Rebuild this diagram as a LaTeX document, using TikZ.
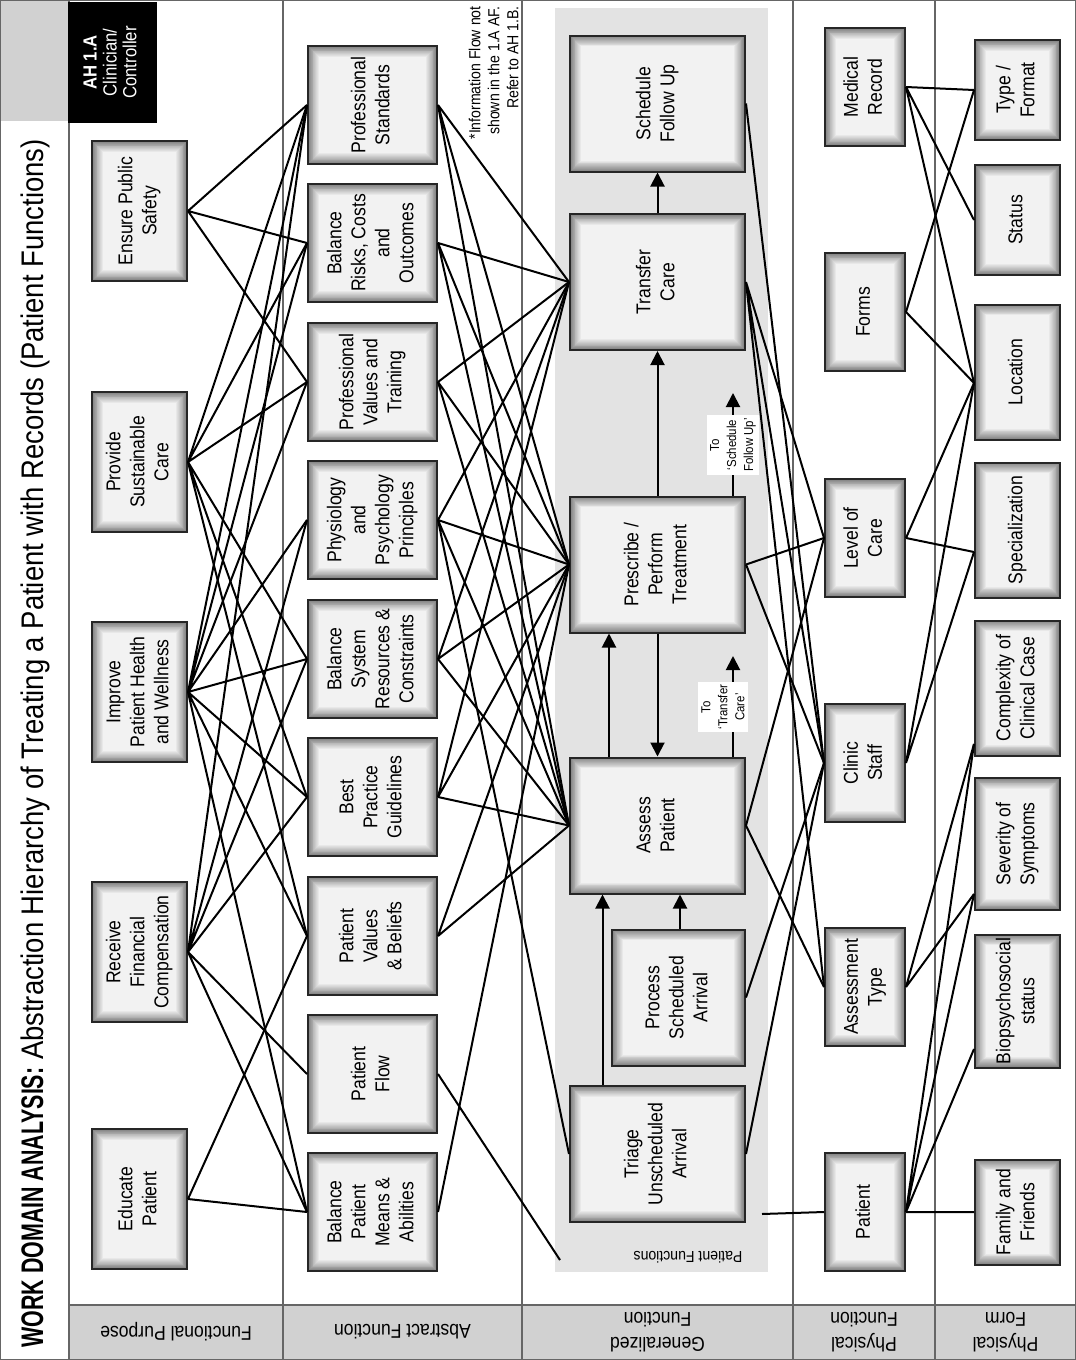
\documentclass[tikz,border=0pt]{standalone}
\usepackage{fontspec}
\setmainfont{Liberation Sans}[FakeStretch=0.88]
\usetikzlibrary{arrows.meta,calc}

\newcommand{\vlabel}[1]{\rotatebox{90}{\begin{tabular}{@{}c@{}}#1\end{tabular}}}

\begin{document}
\begin{tikzpicture}[
  x=0.5pt, y=-0.5pt,
  box/.style={draw=black!85, line width=1pt, inner sep=1pt, font=\fontsize{10}{12}\selectfont,
    path picture={\foreach \k [evaluate=\k as \c using int(50-3.7*\k)] in {0,...,12}
      \fill[black!\c] ([shift={(\k*0.45pt,-\k*0.45pt)}]path picture bounding box.north west)
        rectangle ([shift={(-\k*0.45pt,\k*0.45pt)}]path picture bounding box.south east);}},
  fpbox/.style={box, minimum width=47.5pt, minimum height=70pt},
  afbox/.style={box, minimum width=64.5pt, minimum height=59pt},
  gfbox/.style={box, minimum width=87.5pt, minimum height=68pt},
  pfbox/.style={box, minimum width=40pt, minimum height=59pt},
  formbox/.style={box, minimum width=42.5pt, minimum height=#1},
  formbox/.default=67.5pt,
  link/.style={line width=1pt, black},
  flow/.style={link, -{Triangle[length=7pt, width=7pt]}},
  level/.style={rotate=180, align=center, font=\fontsize{10}{12.5}\selectfont},
  hint/.style={fill=white, inner sep=1.5pt, rotate=90, align=center, font=\fontsize{6.5}{8.5}\selectfont}
]

% === Frame and level columns ===
\useasboundingbox (0,0) rectangle (1076,1360);
\fill[black!18] (0,0) rectangle (69,121);
\fill[black!18] (69,1305) rectangle (1076,1360);
\fill[black!11] (555,8) rectangle (768,1272);
\draw[black!60, line width=0.8pt] (0.5,0.5) rectangle (1075.5,1359.5);
\draw[black!60, line width=0.8pt] (69,0) -- (69,1360) (69,1305) -- (1076,1305)
  (283,0) -- (283,1360) (522,0) -- (522,1360) (793,0) -- (793,1360) (935,0) -- (935,1360);

% === Title ===
\node[rotate=90, anchor=west, inner sep=0pt, font=\fontsize{15.6}{18}\selectfont] (title) at (35,1348)
  {\scalebox{0.78}[1]{\bfseries WORK DOMAIN ANALYSIS:} Abstraction Hierarchy of Treating a Patient with Records (Patient Functions)};
\node[fill=black, text=white, minimum width=44.5pt, minimum height=60.5pt, inner sep=0pt,
  font=\fontsize{9.5}{10}\selectfont] (ah) at (112.5,62.5) {\vlabel{\textbf{AH 1.A}\\Clinician/\\Controller}};
\node[rotate=90, anchor=south east, align=right, inner sep=1pt, font=\fontsize{8}{9.5}\selectfont] (note) at (521,4)
  {*Information Flow not\\shown in the 1.A AF.\\Refer to AH 1.B.};

% === Level labels ===
\node[level] (lfp) at (176,1332) {Functional Purpose};
\node[level] (laf) at (402.5,1332) {Abstract Function};
\node[level] (lgf) at (657.5,1332) {Generalized\\Function};
\node[level] (lpf) at (864,1332) {Physical\\Function};
\node[level] (lpo) at (1005.5,1332) {Physical\\Form};
\node[rotate=180, font=\fontsize{8}{9}\selectfont] (pfun) at (688,1257) {Patient Functions};

% === Functional purpose ===
\node[fpbox] (ES)  at (139.5,211)  {\vlabel{Ensure Public\\Safety}};
\node[fpbox] (PSC) at (139.5,462)  {\vlabel{Provide\\Sustainable\\Care}};
\node[fpbox] (IPH) at (139.5,692)  {\vlabel{Improve\\Patient Health\\and Wellness}};
\node[fpbox] (RFC) at (139.5,952)  {\vlabel{Receive\\Financial\\Compensation}};
\node[fpbox] (EP)  at (139.5,1199) {\vlabel{Educate\\Patient}};

% === Abstract function ===
\node[afbox] (PS)  at (372.5,105)  {\vlabel{Professional\\Standards}};
\node[afbox] (BR)  at (372.5,243)  {\vlabel{Balance\\Risks, Costs\\and\\Outcomes}};
\node[afbox] (PV)  at (372.5,382)  {\vlabel{Professional\\Values and\\Training}};
\node[afbox] (PP)  at (372.5,520)  {\vlabel{Physiology\\and\\Psychology\\Principles}};
\node[afbox] (BSR) at (372.5,659)  {\vlabel{Balance\\System\\Resources \&\\Constraints}};
\node[afbox] (BPG) at (372.5,797)  {\vlabel{Best\\Practice\\Guidelines}};
\node[afbox] (PVB) at (372.5,936)  {\vlabel{Patient\\Values\\\& Beliefs}};
\node[afbox] (PF)  at (372.5,1074) {\vlabel{Patient\\Flow}};
\node[afbox] (BPM) at (372.5,1212) {\vlabel{Balance\\Patient\\Means \&\\Abilities}};

% === Generalized function ===
\node[gfbox] (SFU) at (657.5,103.5) {\vlabel{Schedule\\Follow Up}};
\node[gfbox] (TC)  at (657.5,282)   {\vlabel{Transfer\\Care}};
\node[gfbox] (PT)  at (657.5,564.5) {\vlabel{Prescribe /\\Perform\\Treatment}};
\node[gfbox] (AP)  at (657.5,825.5) {\vlabel{Assess\\Patient}};
\node[gfbox, minimum width=66.5pt] (PSA) at (678.5,997.5) {\vlabel{Process\\Scheduled\\Arrival}};
\node[gfbox] (TRI) at (657.5,1154)  {\vlabel{Triage\\Unscheduled\\Arrival}};

% === Physical function ===
\node[pfbox] (MR)  at (865,87)   {\vlabel{Medical\\Record}};
\node[pfbox] (FO)  at (865,312)  {\vlabel{Forms}};
\node[pfbox] (LC)  at (865,538)  {\vlabel{Level of\\Care}};
\node[pfbox] (CS)  at (865,763)  {\vlabel{Clinic\\Staff}};
\node[pfbox] (AT)  at (865,987)  {\vlabel{Assessment\\Type}};
\node[pfbox] (PA)  at (865,1212) {\vlabel{Patient}};

% === Physical form ===
\node[formbox=50pt] (TF)  at (1017.5,90)   {\vlabel{Type /\\Format}};
\node[formbox=55pt] (ST)  at (1017.5,220)  {\vlabel{Status}};
\node[formbox]      (LO)  at (1017.5,372)  {\vlabel{Location}};
\node[formbox]      (SP)  at (1017.5,530)  {\vlabel{Specialization}};
\node[formbox]      (CC)  at (1017.5,688)  {\vlabel{Complexity of\\Clinical Case}};
\node[formbox=66pt] (SS)  at (1017.5,844)  {\vlabel{Severity of\\Symptoms}};
\node[formbox=66.5pt] (BS) at (1017.5,1001) {\vlabel{Biopsychosocial\\status}};
\node[formbox=52.5pt] (FF) at (1017.5,1212) {\vlabel{Family and\\Friends}};

% === Means-end links: purpose to abstract function ===
\draw[link] (ES.east) -- (PS.west) (ES.east) -- (BR.west) (ES.east) -- (PV.west);
\draw[link] (PSC.east) -- (PS.west) (PSC.east) -- (BR.west) (PSC.east) -- (PV.west)
  (PSC.east) -- (BSR.west) (PSC.east) -- (BPG.west) (PSC.east) -- (PVB.west);
\draw[link] (IPH.east) -- (PS.west) (IPH.east) -- (BR.west) (IPH.east) -- (PV.west)
  (IPH.east) -- (PP.west) (IPH.east) -- (BSR.west) (IPH.east) -- (BPG.west)
  (IPH.east) -- (PVB.west) (IPH.east) -- (BPM.west);
\draw[link] (RFC.east) -- (PS.west) (RFC.east) -- (PP.west) (RFC.east) -- (BSR.west)
  (RFC.east) -- (BPG.west) (RFC.east) -- (PF.west) (RFC.east) -- (BPM.west);
\draw[link] (EP.east) -- (PVB.west) (EP.east) -- (BPM.west);

% === Abstract function to generalized function ===
\coordinate (pfcorner) at (560,1260);
\draw[link] (PS.east) -- (TC.west) (PS.east) -- (PT.west) (PS.east) -- (AP.west);
\draw[link] (BR.east) -- (TC.west) (BR.east) -- (PT.west) (BR.east) -- (AP.west);
\draw[link] (PV.east) -- (TC.west) (PV.east) -- (PT.west) (PV.east) -- (AP.west);
\draw[link] (PP.east) -- (TC.west) (PP.east) -- (PT.west) (PP.east) -- (AP.west) (PP.east) -- (TRI.west);
\draw[link] (BSR.east) -- (TC.west) (BSR.east) -- (PT.west) (BSR.east) -- (AP.west);
\draw[link] (BPG.east) -- (TC.west) (BPG.east) -- (PT.west) (BPG.east) -- (AP.west);
\draw[link] (PVB.east) -- (PT.west) (PVB.east) -- (AP.west);
\draw[link] (PF.east) -- (pfcorner);
\draw[link] (BPM.east) -- (PT.west);

% === Flow inside patient functions ===
\draw[flow] (TC.north) -- (SFU.south);
\draw[flow] (PT.north) -- (TC.south);
\draw[flow] ($(AP.north)+(-48.5,0)$) -- ($(PT.south)+(-48.5,0)$);
\draw[flow] (PT.south) -- (AP.north);
\draw[flow] ($(PSA.north)+(1.5,0)$) -- ($(AP.south)+(22.5,0)$);
\draw[flow] ($(TRI.north)+(-55,0)$) -- ($(AP.south)+(-55,0)$);
\coordinate (toSFU) at (733,393);
\coordinate (toTC) at (733,656);
\draw[flow] ($(PT.north)+(75.5,0)$) -- (toSFU);
\draw[flow] ($(AP.north)+(75.5,0)$) -- (toTC);
\node[hint] (hSFU) at (733,445) {To\\`Schedule\\Follow Up'};
\node[hint] (hTC) at (723,707) {To\\`Transfer\\Care'};

% === Generalized function to physical function ===
\coordinate (pfedge) at (762,1214);
\draw[link] (SFU.east) -- (CS.west);
\draw[link] (TC.east) -- (LC.west) (TC.east) -- (CS.west) (TC.east) -- (AT.west);
\draw[link] (PT.east) -- (LC.west) (PT.east) -- (CS.west);
\draw[link] (AP.east) -- (LC.west) (AP.east) -- (AT.west);
\draw[link] (PSA.east) -- (CS.west);
\draw[link] (TRI.east) -- (CS.west);
\draw[link] (PA.west) -- (pfedge);

% === Physical function to physical form ===
\draw[link] (MR.east) -- (TF.west) (MR.east) -- (ST.west) (MR.east) -- ($(LO.west)+(0,11)$);
\draw[link] (FO.east) -- (TF.west) (FO.east) -- ($(LO.west)+(0,11)$);
\draw[link] (LC.east) -- ($(LO.west)+(0,11)$) (LC.east) -- ($(SP.west)+(0,22)$);
\draw[link] (CS.east) -- ($(LO.west)+(0,11)$) (CS.east) -- ($(SP.west)+(0,22)$);
\draw[link] (AT.east) -- ($(CC.west)+(0,56)$) (AT.east) -- ($(SS.west)+(0,50)$);
\draw[link] (PA.east) -- ($(CC.west)+(0,56)$) (PA.east) -- ($(SS.west)+(0,50)$)
  (PA.east) -- ($(BS.west)+(0,48)$) (PA.east) -- (FF.west);

\end{tikzpicture}
\end{document}
